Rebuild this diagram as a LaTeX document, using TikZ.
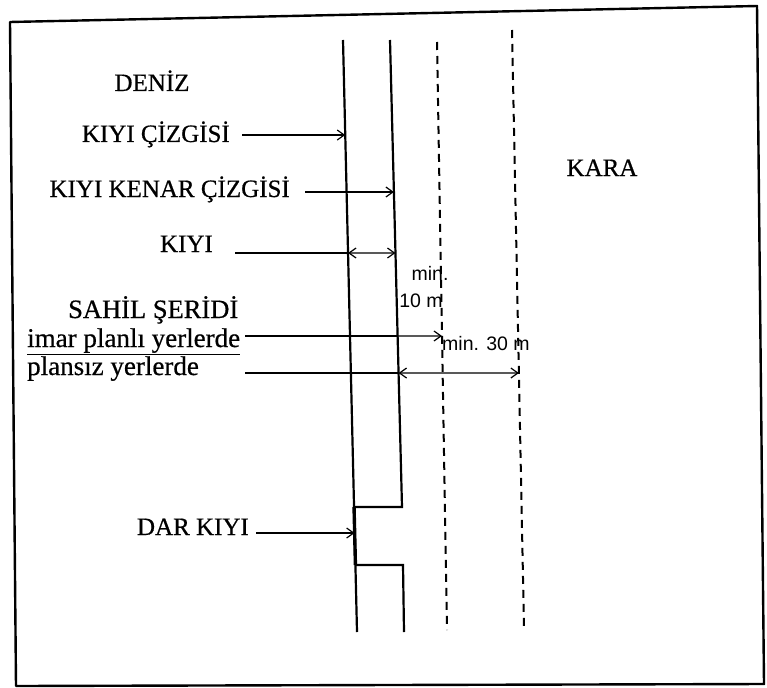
\documentclass[tikz,border=0pt]{standalone}
\usepackage{fontspec}
\setmainfont{Liberation Serif}[FakeBold=0.6]
\newfontfamily\numfont{Liberation Sans}
\usetikzlibrary{arrows.meta,calc}
\begin{document}
\begin{tikzpicture}[x=1pt,y=-1pt,
  >={Straight Barb[length=7pt,width=10pt]},
  lbl/.style={inner sep=0pt,font=\fontsize{25}{30}\selectfont},
  lblbig/.style={inner sep=0pt,font=\fontsize{26.5}{30}\selectfont},
  sml/.style={inner sep=0pt,font=\numfont\fontsize{19.5}{22}\selectfont},
  shore/.style={line width=2.2pt},
  limit/.style={line width=2pt,dash pattern=on 8pt off 6pt},
  conn/.style={line width=1.2pt},
  frame/.style={line width=2.4pt,line join=round}]
\useasboundingbox (0,0) rectangle (767,687);
% frame
\draw[frame] (10,22) -- (757,6) -- (764,684) -- (16,686) -- cycle;
% shore lines
\coordinate (L1t) at (343,40);
\coordinate (L1b) at (357,632);
\coordinate (L2t) at (390,40);
\coordinate (L2s) at (402,507);
\coordinate (L1s) at ($(L1t)!0.7889!(L1b)$);
\coordinate (L1u) at ($(L1t)!0.8868!(L1b)$);
\coordinate (L2u) at (403,565);
\coordinate (L2b) at (404,632);
\draw[shore] (L1t) -- (L1b);
\draw[shore,line join=miter] (L2t) -- (L2s) -- (L1s);
\draw[shore,line join=miter] (L1u) -- (L2u) -- (L2b);
\draw[line width=3.4pt] (L1s) -- (L1u);
% dashed limits
\coordinate (D1t) at (437,42);
\coordinate (D1b) at (447,630);
\coordinate (D2t) at (512,30);
\coordinate (D2b) at (524,628);
\draw[limit] (D1t) -- (D1b);
\draw[limit] (D2t) -- (D2b);
% labels
\node[lbl,anchor=base] (deniz) at (152,91) {DENİZ};
\node[lbl,anchor=base east] (kc) at (230,142) {KIYI ÇİZGİSİ};
\node[lbl,anchor=base east] (kk) at (290,197) {KIYI KENAR ÇİZGİSİ};
\node[lbl,anchor=base east] (ky) at (213,252) {KIYI};
\node[lbl,anchor=base] (kara) at (602,176) {KARA};
\node[lblbig,anchor=base west] (sahil) at (68,318) {SAHİL ŞERİDİ};
\node[lblbig,font=\fontsize{27}{30}\selectfont,anchor=base west] (imar) at (27,347) {imar planlı yerlerde};
\node[lblbig,font=\fontsize{27}{30}\selectfont,anchor=base west] (plan) at (27,375) {plansız yerlerde};
\node[lbl,anchor=base east] (dar) at (249,535) {DAR KIYI};
\node[sml,anchor=base] (min1) at (430,280) {min.};
\node[sml,anchor=base] (ten) at (421,307) {10 m};
\node[sml,anchor=base west] (thirty) at (442,350) {min. 30 m};
\draw[line width=1pt] ([yshift=-1pt]imar.south west) -- ([yshift=-1pt]imar.south east);
% hit points
\coordinate (p1) at ($(L1t)!0.1605!(L1b)$);
\coordinate (p2) at ($(L2t)!0.3255!(L2s)$);
\coordinate (p3a) at ($(L1t)!0.3598!(L1b)$);
\coordinate (p3b) at ($(L2t)!0.4561!(L2s)$);
\coordinate (p4) at ($(L2t)!0.6338!(L2s)$);
\coordinate (d1) at ($(D1t)!0.5!(D1b)$);
\coordinate (p5) at ($(L2t)!0.7131!(L2s)$);
\coordinate (d2) at ($(D2t)!0.5736!(D2b)$);
\coordinate (p6) at ($(L1t)!0.8328!(L1b)$);
% connectors
\draw[conn,->] ([xshift=12pt]kc.east |- p1) -- (p1);
\draw[conn,->] ([xshift=15pt]kk.east |- p2) -- (p2);
\draw[conn] ([xshift=22pt]ky.east |- p3a) -- (p3a);
\draw[conn,<->] (p3a) -- (p3b);
\draw[conn] ([xshift=5pt]imar.east |- p4) -- (p4);
\draw[conn,->] (p4) -- (d1);
\draw[conn] ([xshift=5pt]imar.east |- p5) -- (p5);
\draw[conn,<->] (p5) -- (d2);
\draw[conn,->] ([xshift=7pt]dar.east |- p6) -- (p6);
\end{tikzpicture}
\end{document}
